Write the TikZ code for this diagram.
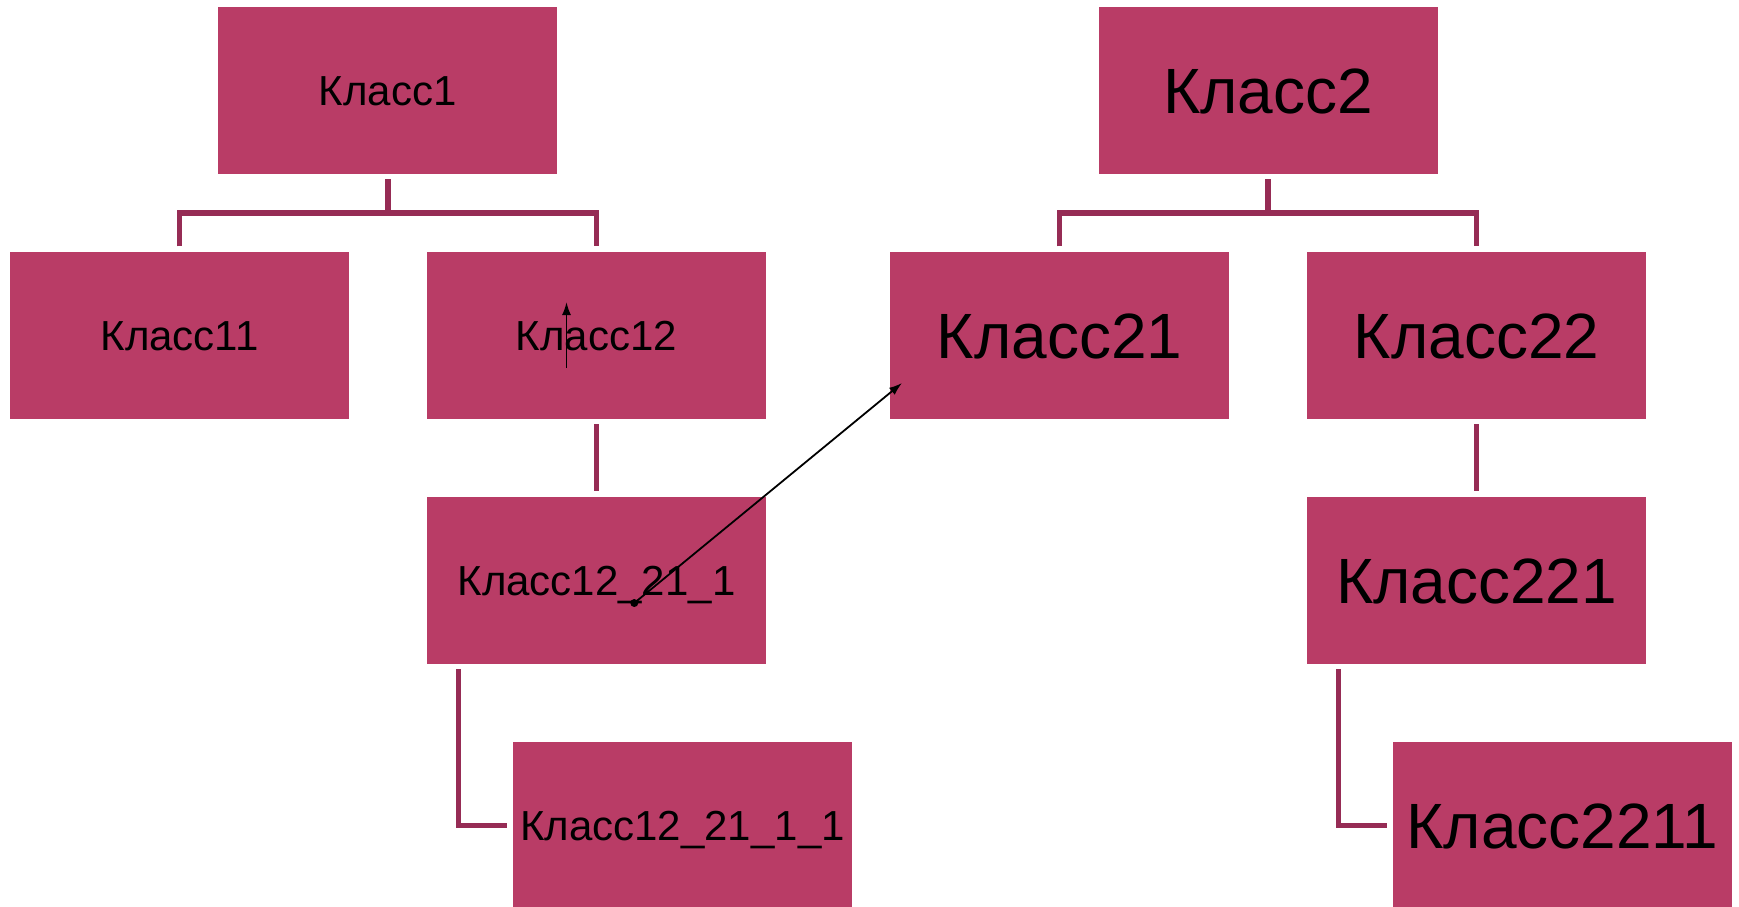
\documentclass[tikz,border=0pt]{standalone}
\usepackage{fontspec}
\setmainfont{Liberation Sans}
\usetikzlibrary{arrows.meta}
\definecolor{boxfill}{RGB}{185,60,102}
\definecolor{connc}{RGB}{150,44,85}
\tikzset{
  classbox/.style={fill=boxfill, draw=none, minimum width=339pt, minimum height=166.5pt, inner sep=0pt, text=black},
  smalltext/.style={font=\fontsize{42pt}{50pt}\selectfont, text height=30pt, text depth=0pt},
  bigtext/.style={font=\fontsize{64pt}{76pt}\selectfont, text height=45.8pt, text depth=0pt},
  conn/.style={draw=connc, line width=5.5pt, line join=miter},
  thinarrow/.style={draw=black, line width=1.8pt, -{Latex[length=13pt,width=9pt]}}
}
\begin{document}
\begin{tikzpicture}[x=1pt,y=-1pt]
\useasboundingbox (0,0) rectangle (1739,906);
\fill[white] (0,0) rectangle (1739,906);
% left tree
\node[classbox,smalltext] (k1) at (387.8,90.25) {Класс1};
\node[classbox,smalltext] (k11) at (179.5,335.25) {Класс11};
\node[classbox,smalltext] (k12) at (596.5,335.25) {Класс12};
\node[classbox,smalltext] (k121) at (596.5,580.25) {Класс12\_21\_1};
\node[classbox,smalltext] (k1211) at (682.5,825.25) {Класс12\_21\_1\_1};
% right tree
\node[classbox,bigtext] (k2) at (1268,90.25) {Класс2};
\node[classbox,bigtext] (k21) at (1059.5,335.25) {Класс21};
\node[classbox,bigtext] (k22) at (1476.5,335.25) {Класс22};
\node[classbox,bigtext] (k221) at (1476.5,580.25) {Класс221};
\node[classbox,bigtext] (k2211) at (1562.5,825.25) {Класс2211};
% connectors left
\draw[conn] ([yshift=-5.5pt]k1.south) -- ([yshift=-42pt]k1.south);
\draw[conn] ([yshift=5.5pt]k11.north) |- ([yshift=-39.5pt]k1.south) -| ([yshift=5.5pt]k12.north);
\draw[conn] ([yshift=-5.5pt]k12.south) -- ([yshift=5.5pt]k121.north);
\draw[conn] ([xshift=31.5pt,yshift=-5.5pt]k121.south west) |- ([xshift=-5.5pt]k1211.west);
% connectors right
\draw[conn] ([yshift=-5.5pt]k2.south) -- ([yshift=-42pt]k2.south);
\draw[conn] ([yshift=5.5pt]k21.north) |- ([yshift=-39.5pt]k2.south) -| ([yshift=5.5pt]k22.north);
\draw[conn] ([yshift=-5.5pt]k22.south) -- ([yshift=5.5pt]k221.north);
\draw[conn] ([xshift=31.5pt,yshift=-5.5pt]k221.south west) |- ([xshift=-5.5pt]k2211.west);
% black arrows
\coordinate (a1s) at (566.5,368);
\coordinate (a1e) at (566.5,302);
\coordinate (a2s) at (634.3,603);
\coordinate (a2e) at (902,383);
\draw[thinarrow] (a1s) -- (a1e);
\draw[thinarrow] (a2s) -- (a2e);
\fill[black] (a2s) circle (4pt);
\end{tikzpicture}
\end{document}
